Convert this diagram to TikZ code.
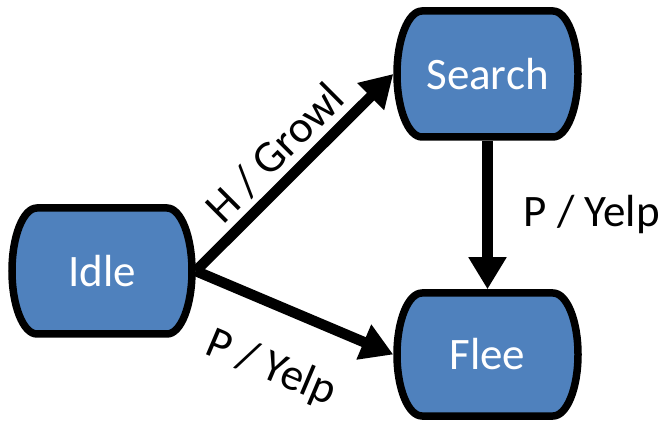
\documentclass[tikz,border=0pt]{standalone}
\usepackage{fontspec}
\setmainfont{Carlito}
\usetikzlibrary{arrows.meta,calc,backgrounds}
\definecolor{stateblue}{HTML}{4F81BD}
\tikzset{
  state/.style={rectangle, inner sep=0pt, outer sep=0pt, text=white,
    font=\fontsize{45}{54}\selectfont},
  stateline/.style={fill=stateblue, draw=black, line width=7.5pt},
  trans/.style={line width=10.5pt, -{Triangle[width=36pt,length=32pt]}},
  translabel/.style={font=\fontsize{45}{54}\selectfont, inner sep=0pt, text=black}
}
% Barrel outline: flat top and bottom, sides bowed outwards (stroke inset by half its width)
\newcommand\statebox[1]{%
  \filldraw[stateline]
    let \p1=($(#1.south west)+(3.75,3.75)$), \p2=($(#1.north east)+(-3.75,-3.75)$),
        \n1={(\y1+\y2)/2}, \n2={(\y2-\y1)/2}, \n3={25} in
    (\x1+\n3,\y2) -- (\x2-\n3,\y2)
    .. controls +(0.5523*\n3,0) and +(0,0.5523*\n2) .. (\x2,\n1)
    .. controls +(0,-0.5523*\n2) and +(0.5523*\n3,0) .. (\x2-\n3,\y1)
    -- (\x1+\n3,\y1)
    .. controls +(-0.5523*\n3,0) and +(0,-0.5523*\n2) .. (\x1,\n1)
    .. controls +(0,0.5523*\n2) and +(-0.5523*\n3,0) .. (\x1+\n3,\y2)
    -- cycle;
}
\begin{document}
\begin{tikzpicture}[x=1pt,y=1pt]
  \useasboundingbox (0,0) rectangle (669,423);
  \node[state, minimum width=187.5pt, minimum height=133.5pt] (idle) at (102,152) {Idle};
  \node[state, minimum width=188.5pt, minimum height=133.5pt] (search) at (487.5,349) {Search};
  \node[state, minimum width=188.5pt, minimum height=130.5pt] (flee) at (487.5,68.5) {Flee};
  \begin{scope}[on background layer]
    \statebox{idle}
    \statebox{search}
    \statebox{flee}
  \end{scope}
  \draw[trans] (idle.east) -- node[translabel, sloped, above=6pt] {H / Growl} (search.west);
  \draw[trans] (idle.east) -- node[translabel, sloped, below=36pt] {P / Yelp} (flee.west);
  \draw[trans] (search.south) -- node[translabel, right=31pt] {P / Yelp} (flee.north);
\end{tikzpicture}
\end{document}
